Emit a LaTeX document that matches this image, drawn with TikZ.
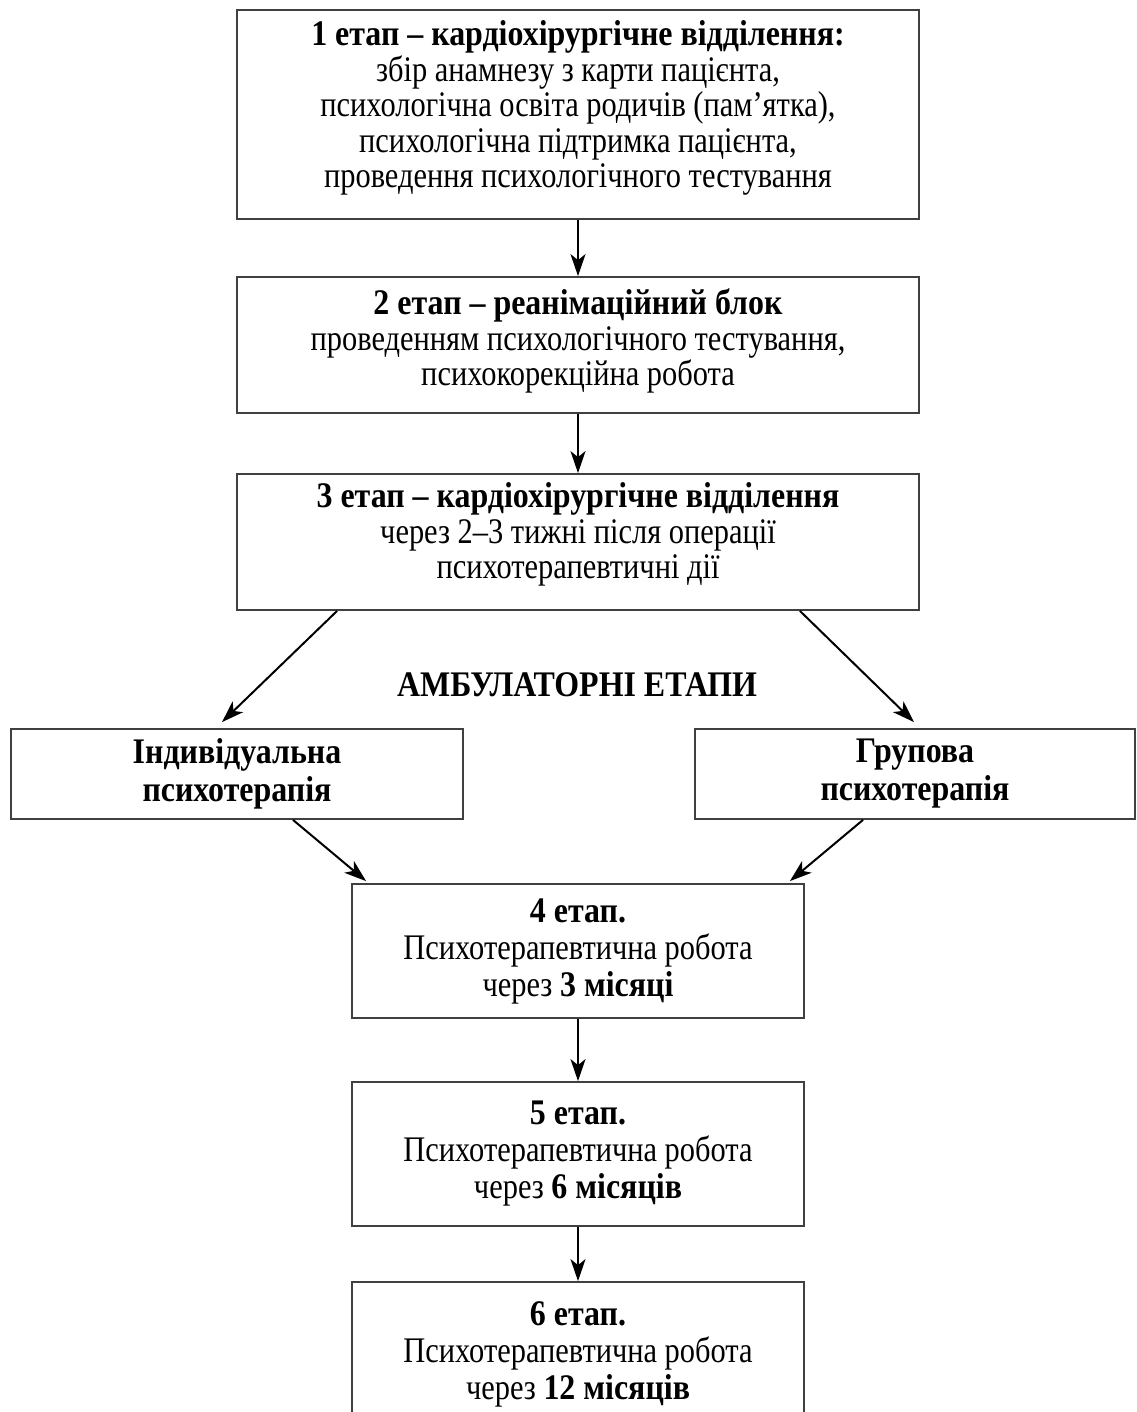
\documentclass[tikz,border=0pt]{standalone}
\usepackage{fontspec}
\setmainfont{Liberation Serif}[UprightFeatures={FakeStretch=0.845}, BoldFeatures={FakeStretch=0.887}]
\usetikzlibrary{arrows.meta}
\newcommand\lowstrut[1]{\rule[-#1]{0pt}{#1}}
\tikzset{
  stagebox/.style={draw=black!75, line width=0.9pt, align=center, inner sep=0pt,
    font=\fontsize{18}{17.75}\selectfont},
  laterbox/.style={stagebox, font=\fontsize{18}{18.5}\selectfont},
  kindbox/.style={stagebox, font=\fontsize{18}{19}\selectfont\bfseries},
  stagearrow/.style={-{Stealth[length=11pt,width=7.5pt,inset=3pt]}, line width=1pt}
}
\begin{document}
\begin{tikzpicture}[x=0.5pt,y=-0.5pt]
  \clip (0,0) rectangle (1136,1412);
  % Hospital stages
  \node[stagebox, minimum width=341pt, minimum height=104.5pt] (s1) at (578,114.5)
    {\textbf{1 етап – кардіохірургічне відділення:}\\
     збір анамнезу з карти пацієнта,\\
     психологічна освіта родичів (пам’ятка),\\
     психологічна підтримка пацієнта,\\
     проведення психологічного тестування\lowstrut{10pt}};
  \node[stagebox, minimum width=341pt, minimum height=68pt] (s2) at (578,345)
    {\textbf{2 етап – реанімаційний блок}\\
     проведенням психологічного тестування,\\
     психокорекційна робота\lowstrut{7.5pt}};
  \node[stagebox, minimum width=341pt, minimum height=68pt] (s3) at (578,542)
    {\textbf{3 етап – кардіохірургічне відділення}\\
     через 2–3 тижні після операції\\
     психотерапевтичні дії\lowstrut{11pt}};
  % Outpatient stages
  \node[font=\fontsize{18}{19}\selectfont\bfseries] (amb) at (577,685) {АМБУЛАТОРНІ ЕТАПИ};
  \node[kindbox, minimum width=226pt, minimum height=45pt] (indiv) at (237,774)
    {Індивідуальна\\ психотерапія};
  \node[kindbox, minimum width=220pt, minimum height=45pt] (group) at (915,774)
    {Групова\\ психотерапія};
  \node[laterbox, minimum width=226pt, minimum height=67pt] (s4) at (578,951)
    {\textbf{4 етап.}\\ Психотерапевтична робота\\ через \textbf{3 місяці}};
  \node[laterbox, minimum width=226pt, minimum height=72pt] (s5) at (578,1154)
    {\textbf{5 етап.}\\ Психотерапевтична робота\\ через \textbf{6 місяців}};
  \node[laterbox, minimum width=226pt, minimum height=72pt] (s6) at (578,1354)
    {\textbf{6 етап.}\\ Психотерапевтична робота\\ через \textbf{12 місяців}};
  % Arrows
  \draw[stagearrow] (s1) -- (s2);
  \draw[stagearrow] (s2) -- (s3);
  \draw[stagearrow] ([xshift=50.5pt]s3.south west) -- ([shift={(-7.5pt,3pt)}]indiv.north);
  \draw[stagearrow] ([xshift=-60pt]s3.south east) -- ([shift={(-0.5pt,3pt)}]group.north);
  \draw[stagearrow] ([xshift=28pt]indiv.south) -- ([shift={(7.5pt,1pt)}]s4.north west);
  \draw[stagearrow] ([xshift=-26pt]group.south) -- ([shift={(-7.5pt,1pt)}]s4.north east);
  \draw[stagearrow] (s4) -- (s5);
  \draw[stagearrow] (s5) -- (s6);
\end{tikzpicture}
\end{document}
